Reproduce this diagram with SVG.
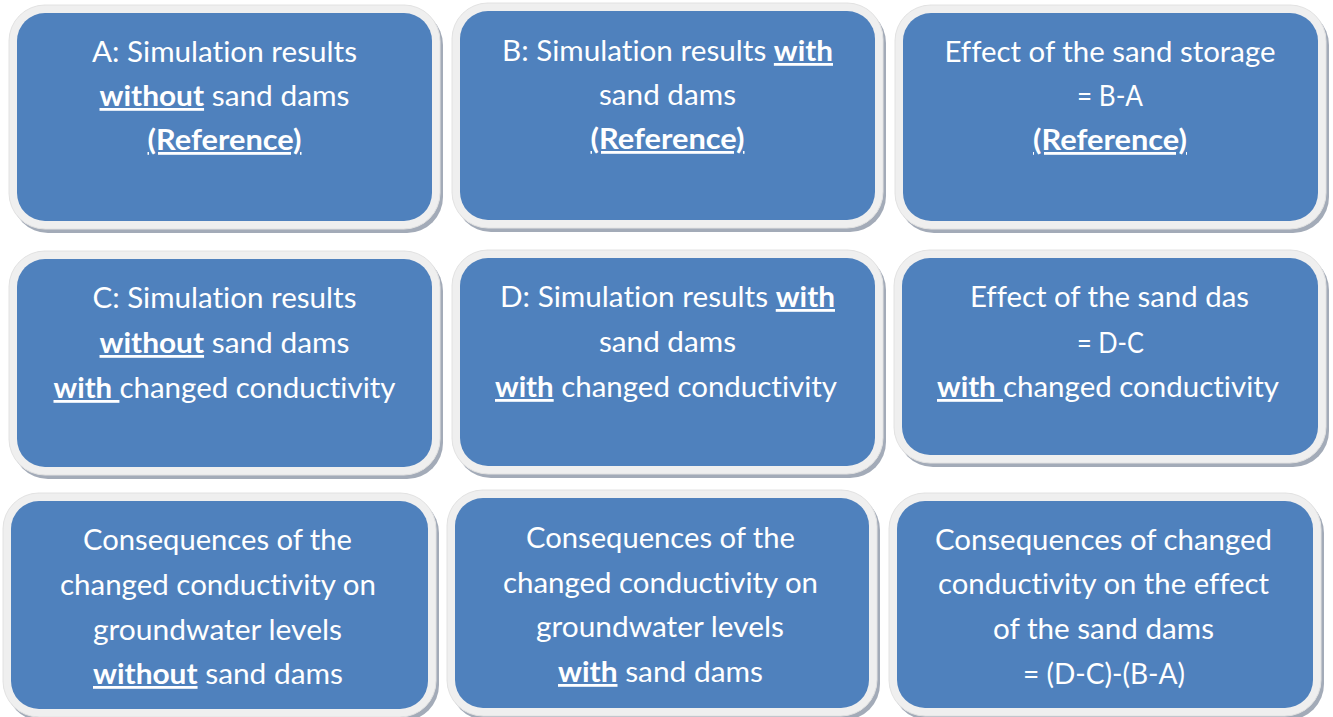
<svg xmlns="http://www.w3.org/2000/svg" width="1333" height="717" viewBox="0 0 1333 717">
<defs>
<style>
.shadow{fill:#a3abb8}
.ring{fill:#efefef;stroke:#e2e2e2;stroke-width:1}
.blue{fill:#4f81bd}
.t{font-family:Lato,"Liberation Sans",sans-serif;font-size:28px;fill:#ffffff;text-anchor:middle;font-variant-ligatures:none;text-decoration-skip-ink:none}
.b{font-weight:bold}
.u{text-decoration:underline;text-decoration-skip-ink:none}
</style>
</defs>
<rect width="1333" height="717" fill="#ffffff"/>
<g id="connectors"></g>

<g id="box-A">
<rect class="shadow" x="12" y="9" width="431" height="224" rx="36"/>
<rect class="ring" x="9" y="5" width="431" height="224" rx="36"/>
<rect class="blue" x="17" y="13" width="415" height="208" rx="28"/>
<text class="t" x="224.5" y="62" textLength="265" lengthAdjust="spacingAndGlyphs">A: Simulation results</text>
<text class="t" x="224.5" y="106" textLength="250" lengthAdjust="spacingAndGlyphs"><tspan class="b u">without</tspan> sand dams</text>
<text class="t" x="224.5" y="150" textLength="154" lengthAdjust="spacingAndGlyphs"><tspan class="b u">(Reference)</tspan></text>
</g>

<g id="box-B">
<rect class="shadow" x="455" y="7" width="431" height="225" rx="36"/>
<rect class="ring" x="452" y="3" width="431" height="225" rx="36"/>
<rect class="blue" x="460" y="11" width="415" height="209" rx="28"/>
<text class="t" x="667.5" y="61" textLength="331" lengthAdjust="spacingAndGlyphs">B: Simulation results <tspan class="b u">with</tspan></text>
<text class="t" x="667.5" y="105" textLength="137" lengthAdjust="spacingAndGlyphs">sand dams</text>
<text class="t" x="667.5" y="149" textLength="154" lengthAdjust="spacingAndGlyphs"><tspan class="b u">(Reference)</tspan></text>
</g>

<g id="box-BA">
<rect class="shadow" x="898" y="9" width="431" height="224" rx="36"/>
<rect class="ring" x="895" y="5" width="431" height="224" rx="36"/>
<rect class="blue" x="903" y="13" width="415" height="208" rx="28"/>
<text class="t" x="1110" y="62" textLength="331" lengthAdjust="spacingAndGlyphs">Effect of the sand storage</text>
<text class="t" x="1110" y="106" textLength="66" lengthAdjust="spacingAndGlyphs">= B-A</text>
<text class="t" x="1110" y="150" textLength="154" lengthAdjust="spacingAndGlyphs"><tspan class="b u">(Reference)</tspan></text>
</g>

<g id="box-C">
<rect class="shadow" x="12" y="255" width="431" height="224" rx="36"/>
<rect class="ring" x="9" y="251" width="431" height="224" rx="36"/>
<rect class="blue" x="17" y="259" width="415" height="208" rx="28"/>
<text class="t" x="224.5" y="308" textLength="264" lengthAdjust="spacingAndGlyphs">C: Simulation results</text>
<text class="t" x="224.5" y="353" textLength="250" lengthAdjust="spacingAndGlyphs"><tspan class="b u">without</tspan> sand dams</text>
<text class="t" x="224.5" y="398" textLength="342" lengthAdjust="spacingAndGlyphs"><tspan class="b u">with </tspan>changed conductivity</text>
</g>

<g id="box-D">
<rect class="shadow" x="455" y="254" width="431" height="224" rx="36"/>
<rect class="ring" x="452" y="250" width="431" height="224" rx="36"/>
<rect class="blue" x="460" y="258" width="415" height="208" rx="28"/>
<text class="t" x="667.5" y="307" textLength="335" lengthAdjust="spacingAndGlyphs">D: Simulation results <tspan class="b u">with</tspan></text>
<text class="t" x="667.5" y="352" textLength="137" lengthAdjust="spacingAndGlyphs">sand dams</text>
<text class="t" x="666" y="397" textLength="342" lengthAdjust="spacingAndGlyphs"><tspan class="b u">with</tspan> changed conductivity</text>
</g>

<g id="box-DC">
<rect class="shadow" x="897" y="254" width="432" height="213" rx="36"/>
<rect class="ring" x="894" y="250" width="432" height="213" rx="36"/>
<rect class="blue" x="902" y="258" width="416" height="197" rx="28"/>
<text class="t" x="1109.5" y="307" textLength="279" lengthAdjust="spacingAndGlyphs">Effect of the sand das</text>
<text class="t" x="1110.5" y="353" textLength="67" lengthAdjust="spacingAndGlyphs">= D-C</text>
<text class="t" x="1108" y="397" textLength="342" lengthAdjust="spacingAndGlyphs"><tspan class="b u">with </tspan>changed conductivity</text>
</g>

<g id="box-E">
<rect class="shadow" x="6" y="497" width="433" height="224" rx="36"/>
<rect class="ring" x="3" y="493" width="433" height="224" rx="36"/>
<rect class="blue" x="11" y="501" width="417" height="208" rx="28"/>
<text class="t" x="217.5" y="550" textLength="269" lengthAdjust="spacingAndGlyphs">Consequences of the</text>
<text class="t" x="218" y="595" textLength="316" lengthAdjust="spacingAndGlyphs">changed conductivity on</text>
<text class="t" x="217.5" y="640" textLength="249" lengthAdjust="spacingAndGlyphs">groundwater levels</text>
<text class="t" x="218" y="684" textLength="250" lengthAdjust="spacingAndGlyphs"><tspan class="b u">without</tspan> sand dams</text>
</g>

<g id="box-F">
<rect class="shadow" x="450" y="494" width="430" height="226" rx="36"/>
<rect class="ring" x="447" y="490" width="430" height="226" rx="36"/>
<rect class="blue" x="455" y="498" width="414" height="210" rx="28"/>
<text class="t" x="660.5" y="548" textLength="269" lengthAdjust="spacingAndGlyphs">Consequences of the</text>
<text class="t" x="660.5" y="593" textLength="315" lengthAdjust="spacingAndGlyphs">changed conductivity on</text>
<text class="t" x="660" y="637" textLength="248" lengthAdjust="spacingAndGlyphs">groundwater levels</text>
<text class="t" x="660.5" y="682" textLength="205" lengthAdjust="spacingAndGlyphs"><tspan class="b u">with</tspan> sand dams</text>
</g>

<g id="box-G">
<rect class="shadow" x="892" y="497" width="432" height="223" rx="36"/>
<rect class="ring" x="889" y="493" width="432" height="223" rx="36"/>
<rect class="blue" x="897" y="501" width="416" height="207" rx="28"/>
<text class="t" x="1103.5" y="550" textLength="337" lengthAdjust="spacingAndGlyphs">Consequences of changed</text>
<text class="t" x="1103.5" y="594" textLength="331" lengthAdjust="spacingAndGlyphs">conductivity on the effect</text>
<text class="t" x="1103.5" y="639" textLength="221" lengthAdjust="spacingAndGlyphs">of the sand dams</text>
<text class="t" x="1104" y="684" textLength="162" lengthAdjust="spacingAndGlyphs">= (D-C)-(B-A)</text>
</g>
</svg>
